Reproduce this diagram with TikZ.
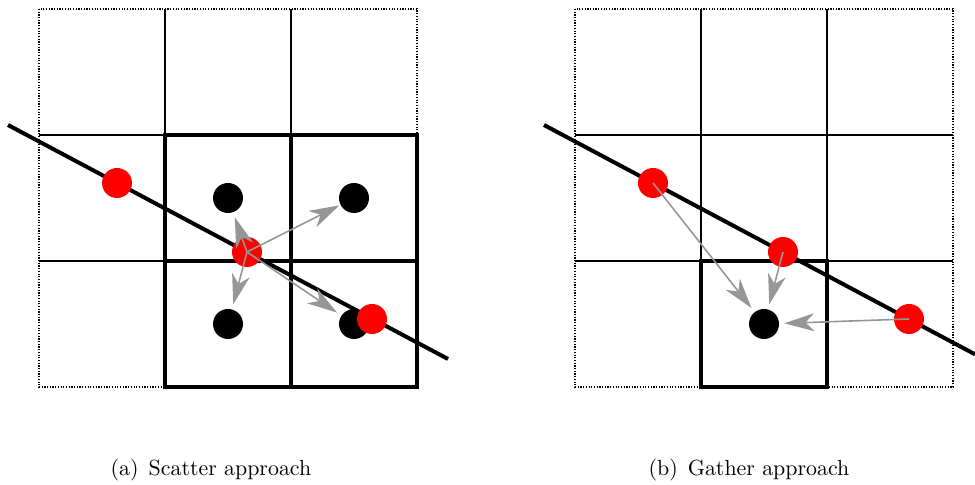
\documentclass[tikz,border=0pt]{standalone}
\usetikzlibrary{arrows.meta}
\definecolor{arrgray}{RGB}{150,150,150}
\definecolor{dotred}{RGB}{255,0,0}
\begin{document}
\begin{tikzpicture}[x=0.5pt,y=-0.5pt,
  thinline/.style={line width=0.6pt},
  dotline/.style={line width=0.6pt, dash pattern=on 0.6pt off 0.75pt},
  thickline/.style={line width=1.9pt},
  diag/.style={line width=2pt},
  bdot/.style={circle, fill=black, minimum size=15pt, inner sep=0pt},
  rdot/.style={circle, fill=dotred, minimum size=15pt, inner sep=0pt},
  flow/.style={draw=arrgray, line width=0.8pt, -{Stealth[length=15pt,width=9pt,inset=4.5pt]}, shorten >=2.5pt},
  captext/.style={anchor=base, inner sep=0pt, font=\fontsize{10.95}{13.6}\selectfont}
]
\useasboundingbox (0,0) rectangle (975,485);

% ---------- (a) Scatter ----------
\draw[dotline] (39,9) rectangle (417,387);
\draw[thinline] (165,9) -- (165,387) (291,9) -- (291,387)
                (39,135) -- (417,135) (39,261) -- (417,261);
\draw[thickline] (165,135) rectangle (417,387);
\draw[thickline] (291,135) -- (291,387) (165,261) -- (417,261);

\coordinate (la) at (8,125);
\coordinate (lb) at (448,359);
\draw[diag] (la) -- (lb);

\node[bdot] (lb1) at (228,198) {};
\node[bdot] (lb2) at (354,198) {};
\node[bdot] (lb3) at (228,324) {};
\node[bdot] (lb4) at (354,324) {};

\node[rdot] (lr1) at (117,183) {};
\node[rdot] (lr2) at (247,252) {};
\node[rdot] (lr3) at (372,319) {};

\draw[flow] (lr2.center) -- (lb1);
\draw[flow, shorten >=0.5pt] (lr2.center) -- (lb2);
\draw[flow] (lr2.center) -- (lb3);
\draw[flow] (lr2.center) -- (lb4);

\node[captext] (capa) at (211,476) {(a)\hspace{5pt}Scatter approach};

% ---------- (b) Gather ----------
\draw[dotline] (575,9) rectangle (953,387);
\draw[thinline] (701,9) -- (701,387) (827,9) -- (827,387)
                (575,135) -- (953,135) (575,261) -- (953,261);
\draw[thickline] (701,261) rectangle (827,387);

\coordinate (ra) at (544,125);
\coordinate (rb) at (975,354.3);
\draw[diag] (ra) -- (rb);

\node[bdot] (rbk) at (764,324) {};

\node[rdot] (rr1) at (653,183) {};
\node[rdot] (rr2) at (783,252) {};
\node[rdot] (rr3) at (909,319) {};

\draw[flow] (rr1.center) -- (rbk);
\draw[flow] (rr2.center) -- (rbk);
\draw[flow] (rr3.center) -- (rbk);

\node[captext] (capb) at (749,476) {(b)\hspace{5pt}Gather approach};
\end{tikzpicture}
\end{document}
